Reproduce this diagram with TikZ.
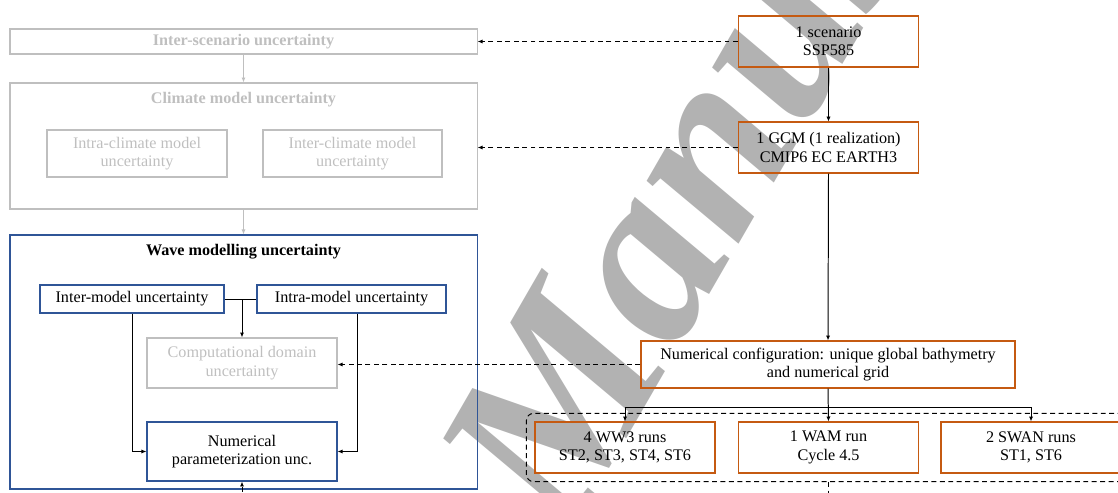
\documentclass[tikz,border=0pt]{standalone}
\usepackage{fontspec}
\setmainfont{Liberation Serif}
\usetikzlibrary{arrows.meta,fit}
\definecolor{boxgray}{RGB}{191,191,191}
\definecolor{boxblue}{RGB}{47,85,151}
\definecolor{boxorange}{RGB}{197,90,17}
\definecolor{markgray}{RGB}{178,178,178}
\newcommand\boxfont{\fontsize{11.5}{13}\selectfont}
\tikzset{
  box/.style={draw,line width=0.8pt,align=center,inner sep=0pt,font=\boxfont},
  graybox/.style={box,draw=boxgray,text=boxgray},
  bluebox/.style={box,draw=boxblue},
  runbox/.style={box,draw=boxorange,minimum width=4.5cm,minimum height=1.275cm},
  title/.style={font=\boxfont\bfseries},
  arr/.style={-{Latex[length=3.5pt,width=3pt]}},
  link/.style={arr,line width=0.7pt},
  dashlink/.style={link,dash pattern=on 3.5pt off 2.5pt},
}
\begin{document}
\begin{tikzpicture}[x=0.025cm,y=-0.025cm]
  \useasboundingbox (0,0) rectangle (1118,493);
  \clip (0,0) rectangle (1118,493);
  % watermark
  \node[text=markgray,font=\fontsize{172}{172}\selectfont\bfseries\itshape,rotate=60,anchor=base west,inner sep=0pt] (mark) at (568,540) {Manuscript};

  % left column
  \node[graybox,minimum width=11.675cm,minimum height=0.625cm,font=\boxfont\bfseries] (interscen) at (243.5,41.5) {Inter-scenario uncertainty};
  \node[graybox,minimum width=11.675cm,minimum height=3.15cm] (climate) at (243.5,146) {};
  \node[title,text=boxgray] (climtitle) at (243.5,100) {Climate model uncertainty};
  \node[graybox,minimum width=4.5cm,minimum height=1.175cm] (intraclim) at (137,153.5) {Intra-climate model\\uncertainty};
  \node[graybox,minimum width=4.475cm,minimum height=1.175cm] (interclim) at (352.5,153.5) {Inter-climate model\\uncertainty};
  \node[bluebox,minimum width=11.675cm,minimum height=6.35cm] (wave) at (243.5,362) {};
  \node[title] (wavetitle) at (243.5,252) {Wave modelling uncertainty};
  \node[bluebox,minimum width=4.6cm,minimum height=0.7cm] (intermod) at (132,299) {Inter-model uncertainty};
  \node[bluebox,minimum width=4.725cm,minimum height=0.7cm] (intramod) at (351.5,299) {Intra-model uncertainty};
  \node[graybox,minimum width=4.75cm,minimum height=1.25cm] (compdom) at (242,363) {Computational domain\\uncertainty};
  \node[bluebox,minimum width=4.75cm,minimum height=1.475cm] (numpar) at (242,451.5) {Numerical\\parameterization unc.};

  % right column
  \node[runbox] (scen) at (828.5,41.5) {1 scenario\\SSP585};
  \node[runbox] (gcm) at (828.5,147.5) {1 GCM (1 realization)\\CMIP6 EC EARTH3};
  \node[box,draw=boxorange,minimum width=9.35cm,minimum height=1.175cm] (numconf) at (828,364.5) {Numerical configuration: unique global bathymetry\\and numerical grid};
  \node[runbox] (ww3) at (625,447.5) {4 WW3 runs\\ST2, ST3, ST4, ST6};
  \node[runbox] (wam) at (828.5,447.5) {1 WAM run\\Cycle 4.5};
  \node[runbox] (swan) at (1031,447.5) {2 SWAN runs\\ST1, ST6};
  \node[draw,line width=0.7pt,dash pattern=on 3.5pt off 2.5pt,rounded corners=5pt,inner sep=0.2cm,fit=(ww3)(wam)(swan)] (runs) {};

  % connectors
  \draw[link,boxgray] (interscen.south) -- (climate.north);
  \draw[link,boxgray] (climate.south) -- (wave.north);
  \coordinate (modfork) at (242,299);
  \draw[line width=0.7pt] (intermod.east) -- (intramod.west);
  \draw[link] (modfork) -- (compdom.north);
  \draw[link] (intermod.south) |- (numpar.west);
  \draw[link] ([xshift=0.16cm]intramod.south) |- (numpar.east);

  \draw[dashlink] (scen.west) -- (interscen.east);
  \draw[dashlink] (gcm.west) -- (gcm.west -| climate.east);
  \draw[dashlink] (numconf.west) -- (numconf.west -| compdom.east);
  \draw[link,line width=0.5pt] (scen.south) -- (gcm.north);
  \draw[link] (gcm.south) -- (numconf.north);
  \coordinate (runfork) at (828,407);
  \draw[link] (numconf.south) -- (wam.north);
  \draw[link] (runfork) -| (ww3.north);
  \draw[link] (runfork) -| (swan.north);
  \coordinate (runsout) at (828,500);
  \draw[line width=0.7pt,dash pattern=on 3.5pt off 2.5pt] (runs.south) -- (runsout);
  \coordinate (parin) at (242,500);
  \draw[dashlink] (parin) -- (numpar.south);
\end{tikzpicture}
\end{document}
